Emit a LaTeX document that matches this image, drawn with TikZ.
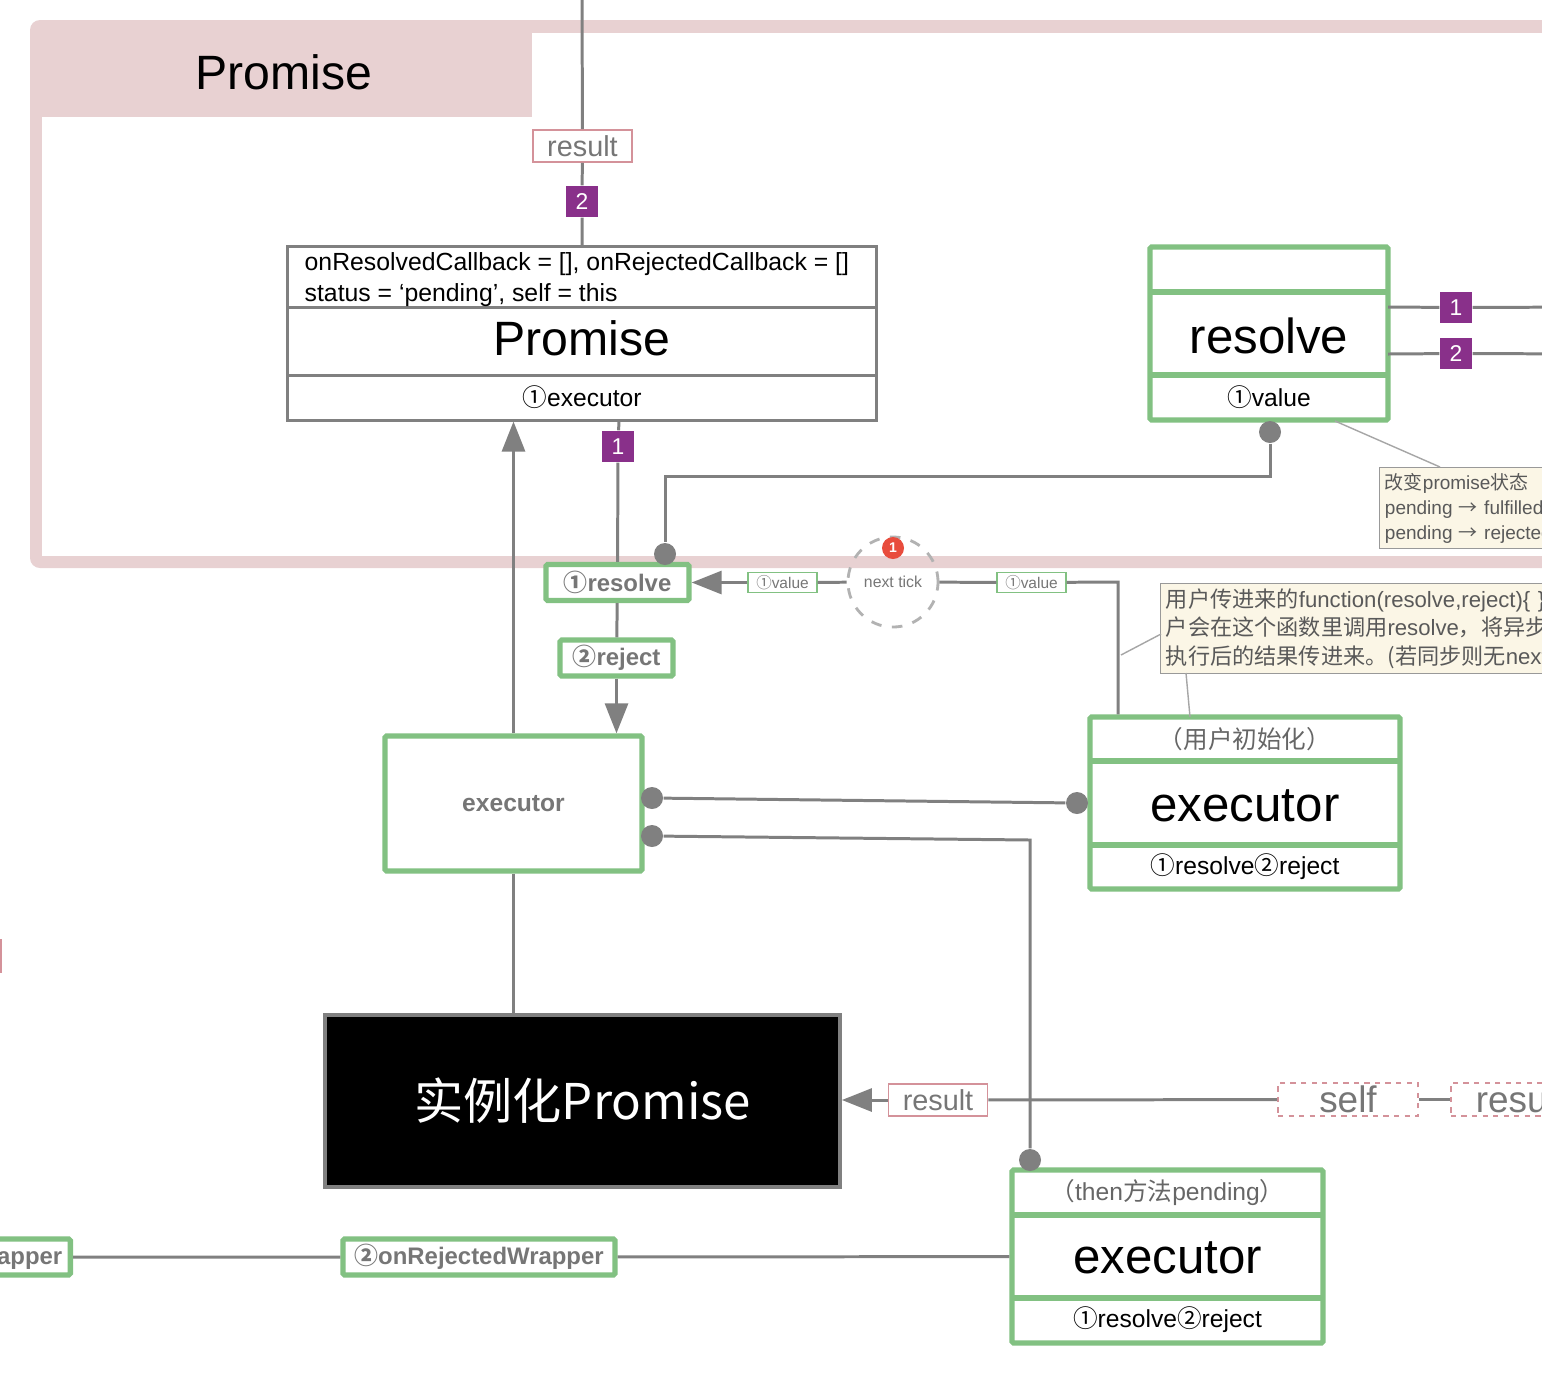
\documentclass[tikz,border=0pt]{standalone}
\usepackage{fontspec}
\setmainfont{Liberation Sans}
\newfontfamily\cjk{Noto Sans CJK SC}
\usetikzlibrary{arrows.meta}
\definecolor{pinkfr}{RGB}{232,209,210}
\definecolor{boxgreen}{RGB}{130,193,130}
\definecolor{linegray}{RGB}{128,128,128}
\definecolor{txtgray}{RGB}{118,118,118}
\definecolor{tagpurple}{RGB}{137,48,138}
\definecolor{notefill}{RGB}{251,246,230}
\definecolor{lblpink}{RGB}{212,146,154}
\definecolor{badgered}{RGB}{232,76,61}
\newcommand{\cone}{{\cjk ①}}
\newcommand{\ctwo}{{\cjk ②}}
\newcommand{\fs}[2]{\fontsize{#1}{#2}\selectfont}
\begin{document}
\begin{tikzpicture}[x=0.01cm,y=-0.01cm,>={Triangle[length=0.3cm,width=0.23cm]},
conn/.style={draw=linegray,line width=0.85pt},
fine/.style={draw=linegray!70,line width=0.4pt},
dot/.style={circle,fill=linegray,inner sep=0pt,minimum size=0.22cm},
classbox/.style={draw=linegray,line width=0.85pt,inner sep=0pt,fill=white},
gbox/.style={draw=boxgreen,line width=1.5pt,rounded corners=0.5pt,inner sep=0pt,fill=white},
gline/.style={draw=boxgreen,line width=1.5pt},
gtag/.style={gbox,text=txtgray,minimum height=0.36cm,font=\bfseries\fs{6.8pt}{8pt}},
vtag/.style={draw=boxgreen,line width=0.4pt,fill=white,text=txtgray,inner sep=0pt,minimum width=0.69cm,minimum height=0.2cm,font=\fs{4.4pt}{5pt}},
ptag/.style={fill=tagpurple,text=white,inner sep=0pt,minimum width=0.32cm,minimum height=0.31cm,font=\fs{6.5pt}{7pt}},
rtag/.style={draw=lblpink,line width=0.5pt,fill=white,text=txtgray,inner sep=0pt,minimum width=0.99cm,minimum height=0.32cm,font=\fs{8.2pt}{9pt}},
dtag/.style={draw=lblpink,line width=0.5pt,dash pattern=on 1.5pt off 1.5pt,fill=white,text=txtgray,inner sep=0pt,minimum width=1.40cm,minimum height=0.33cm,font=\fs{10.5pt}{12pt}},
note/.style={draw=linegray!80,line width=0.4pt,fill=notefill,text=black!65,align=left,anchor=north west,inner sep=1.5pt},
big/.style={font=\fs{14pt}{16pt}},
small/.style={font=\fs{7pt}{8pt}},
gnote/.style={text=black!60,font=\fs{7pt}{8pt}}]
\path[use as bounding box,clip] (0,0) rectangle (1542,1390);
\fill[white] (0,0) rectangle (1542,1390);
\fill[pinkfr,rounded corners=0.1cm] (30,20) rectangle (1700,568);
\fill[white] (42,33) rectangle (1700,556);
\fill[pinkfr] (42,33) rectangle (532,117);
\node[font=\fs{13.7pt}{16pt}] (ptitle) at (284,72) {Promise};
\draw[lblpink,line width=0.6pt] (-60,940) rectangle (1,972);
\node[classbox,minimum width=5.88cm,minimum height=1.73cm] (prom) at (582,333.5) {};
\draw[conn] (288,307)--(876,307) (288,375)--(876,375);
\node[anchor=west,align=left,inner sep=0pt,font=\fs{7.05pt}{8.8pt}] (pfields) at (304,280) {onResolvedCallback = [], onRejectedCallback = []\\status = ‘pending’, self = this};
\node[font=\fs{13.7pt}{16pt}] (pname) at (582,338) {Promise};
\node[small] (parg) at (582,397) {\cone executor};
\node[gbox,minimum width=2.38cm,minimum height=1.73cm] (rsb) at (1269,333.5) {};
\draw[gline] (1150,292)--(1388,292) (1150,375)--(1388,375);
\node[big] (rname) at (1269,336) {resolve};
\node[small] (rarg) at (1269,397) {\cone value};
\node[gbox,minimum width=3.10cm,minimum height=1.72cm] (exu) at (1245,803) {};
\draw[gline] (1090,761)--(1400,761) (1090,845)--(1400,845);
\node[gnote] (exunote) at (1245,739) {\cjk （用户初始化）};
\node[big] (exuname) at (1245,806) {executor};
\node[small] (exuarg) at (1245,867) {\cone resolve\ctwo reject};
\node[gbox,minimum width=3.11cm,minimum height=1.73cm] (ext) at (1167.5,1256.5) {};
\draw[gline] (1012,1215)--(1323,1215) (1012,1298)--(1323,1298);
\node[gnote] (extnote) at (1167.5,1192) {{\cjk （}then{\cjk 方法}pending{\cjk ）}};
\node[big] (extname) at (1167.5,1258) {executor};
\node[small] (extarg) at (1167.5,1320) {\cone resolve\ctwo reject};
\node[gbox,minimum width=2.57cm,minimum height=1.35cm,text=txtgray,font=\bfseries\fs{7pt}{8pt}] (exs) at (513.5,803.5) {executor};
\node[draw=linegray,line width=1pt,fill=black,text=white,minimum width=5.15cm,minimum height=1.72cm,font=\cjk\fs{14pt}{16pt}] (blk) at (582.5,1101) {实例化Promise};
\node[gtag,minimum width=1.43cm] (rsv) at (617.5,582.5) {\cone resolve};
\node[gtag,minimum width=1.13cm] (rej) at (616.5,658) {\ctwo reject};
\node[gtag,minimum width=2.72cm] (rjw) at (479,1257) {\ctwo onRejectedWrapper};
\node[gtag,minimum width=2.72cm,anchor=east] (rsw) at (73,1257) {\cone onResolvedWrapper};
\node[draw=black!30,dashed,line width=0.8pt,circle,minimum size=0.9cm,inner sep=0pt,text=txtgray,font=\fs{4.5pt}{5pt}] (nt) at (893,582) {next tick};
\node[circle,fill=badgered,minimum size=0.22cm,inner sep=0pt,text=white,font=\bfseries\fs{4pt}{5pt}] (badge) at (893,548) {1};
\node[note,text width=2.6cm,minimum height=0.71cm,font=\fs{5.4pt}{7.1pt}] (note1) at (1379,467) {{\cjk 改变}promise{\cjk 状态}\\pending {\cjk →} fulfilled\\pending {\cjk →} rejected};
\node[note,text width=4.6cm,minimum height=0.9cm,font=\fs{6.3pt}{8pt}] (note2) at (1160,583) {{\cjk 用户传进来的}function(resolve,reject)\{ \}\\{\cjk 户会在这个函数里调用}resolve{\cjk ，将异步}/\\{\cjk 执行后的结果传进来。(若同步则无}next};
\coordinate (top) at (582,-10);
\coordinate (pb) at (619,420);
\coordinate (c2) at (1030,840);
\coordinate (c3) at (1118,582);
\coordinate (c5) at (1270,476);
\coordinate (c6) at (665,476);
\coordinate (qa) at (1388,307);
\coordinate (qb) at (1388,354);
\coordinate (qa2) at (1600,307);
\coordinate (qb2) at (1600,354);
\coordinate (n1a) at (1335,421);
\coordinate (n1b) at (1440,467);
\coordinate (n2a) at (1121,655);
\coordinate (n2b) at (1161,634);
\coordinate (n2c) at (1186,673);
\coordinate (n2d) at (1190,717);
\node[dot] (d1) at (652,798) {};
\node[dot] (d2) at (652,836) {};
\node[dot] (d3) at (1077,803) {};
\node[dot] (d4) at (1030,1160) {};
\node[dot] (d5) at (1270,432) {};
\node[dot] (d6) at (665,554) {};
\node[rtag] (res1) at (582.5,146) {result};
\node[ptag] (p2) at (582,201.5) {2};
\node[ptag] (p1) at (618,446.5) {1};
\node[ptag] (q1) at (1456,307.5) {1};
\node[ptag] (q2) at (1456,353.5) {2};
\node[vtag] (v1) at (782.5,582.5) {\cone value};
\node[vtag] (v2) at (1031.5,582.5) {\cone value};
\node[rtag] (res2) at (938,1100) {result};
\node[dtag] (selfb) at (1348,1099.5) {self};
\node[dtag,anchor=west] (resb) at (1450,1099.5) {result};
\draw[conn] (top)--(res1) (res1)--(p2) (p2)--(prom);
\draw[conn] (pb)--(p1) (p1)--(rsv) (rsv)--(rej);
\draw[conn,->] (rej)--(rej|-exs.north);
\draw[conn,->] (exs)--(exs|-prom.south);
\draw[conn] (exs)--(exs|-blk.north);
\draw[conn] (d5)--(c5)--(c6)--(d6);
\draw[conn] (qa)--(q1) (q1)--(qa2) (qb)--(q2) (q2)--(qb2);
\draw[conn] (nt)--(v1);
\draw[conn,->] (v1)--(rsv);
\draw[conn] (nt)--(v2) (v2)--(c3)--(c3|-exu.north);
\draw[conn] (d1)--(d3);
\draw[conn] (d2)--(c2)--(d4);
\draw[conn] (selfb)--(res2);
\draw[conn,->] (res2)--(res2-|blk.east);
\draw[conn] (selfb)--(resb);
\draw[conn] (ext)--(rjw) (rjw)--(rsw);
\draw[fine] (n1a)--(n1b) (n2a)--(n2b) (n2c)--(n2d);
\end{tikzpicture}
\end{document}
